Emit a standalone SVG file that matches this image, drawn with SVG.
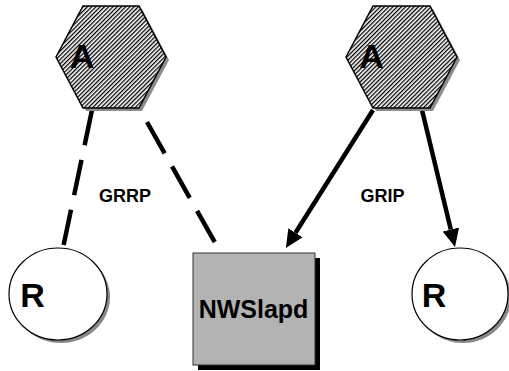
<svg xmlns="http://www.w3.org/2000/svg" width="509" height="371" viewBox="0 0 509 371">
<defs>
<pattern id="hatch" patternUnits="userSpaceOnUse" width="3" height="3" patternTransform="rotate(45)">
<rect width="3" height="3" fill="#ffffff"/>
<rect width="1.3" height="3" fill="#000000"/>
</pattern>
<marker id="arrow" markerUnits="userSpaceOnUse" markerWidth="18" markerHeight="17" refX="0" refY="8.5" orient="auto">
<path d="M0,0 L18,8.5 L0,17 z" fill="#000"/>
</marker>
<style>
.hex{fill:url(#hatch);stroke:#000;stroke-width:1.5}
.hexsh{fill:#8c8c8c}
.circ{fill:#fff;stroke:#000;stroke-width:1.2}
.circsh{fill:#888}
.lbl{font-family:"Liberation Sans",Arial,sans-serif;font-weight:bold;fill:#000;text-anchor:middle}
.dash{fill:none;stroke:#000;stroke-width:4.5;stroke-dasharray:36 15}
.arr{fill:none;stroke:#000;stroke-width:4.5;marker-end:url(#arrow)}
</style>
</defs>
<g id="connectors">
<line class="dash" x1="92" y1="110" x2="63" y2="248"/>
<line class="dash" x1="147" y1="122" x2="218" y2="248"/>
<line class="arr" x1="373" y1="110" x2="295.5" y2="232.8"/>
<line class="arr" x1="422" y1="110" x2="450.8" y2="229.5"/>
<text class="lbl" x="125" y="202" font-size="18">GRRP</text>
<text class="lbl" x="382.5" y="202" font-size="18">GRIP</text>
</g>
<g id="hexA1">
<polygon class="hexsh" points="59,60 86,9 142,9 169,60 142,111 86,111"/>
<polygon class="hex" points="56,57 83,6 139,6 166,57 139,108 83,108"/>
<text class="lbl" x="82" y="68" font-size="34">A</text>
</g>
<g id="hexA2">
<polygon class="hexsh" points="349,60 376,9 433,9 460,60 433,111 376,111"/>
<polygon class="hex" points="346,57 373,6 430,6 457,57 430,108 373,108"/>
<text class="lbl" x="371.5" y="68" font-size="34">A</text>
</g>
<g id="R1">
<ellipse class="circsh" cx="61" cy="297" rx="49" ry="46"/>
<ellipse class="circ" cx="58" cy="294" rx="49" ry="46"/>
<text class="lbl" x="32.5" y="307" font-size="34">R</text>
</g>
<g id="NWSlapd">
<rect x="198" y="258" width="122" height="112" fill="#000"/>
<rect x="193" y="253" width="122" height="112" fill="#b3b3b3" stroke="#333" stroke-width="1"/>
<text class="lbl" x="253.5" y="318" font-size="25">NWSlapd</text>
</g>
<g id="R2">
<ellipse class="circsh" cx="463" cy="297" rx="48" ry="46"/>
<ellipse class="circ" cx="460" cy="294" rx="48" ry="46"/>
<text class="lbl" x="434" y="307" font-size="34">R</text>
</g>
</svg>
